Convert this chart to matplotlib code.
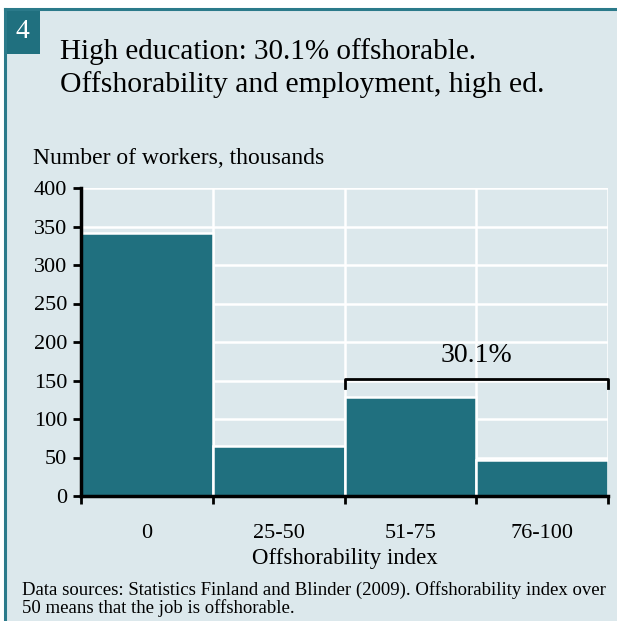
import matplotlib.pyplot as plt
from matplotlib.patches import Rectangle

# Työntekijät offshorability-indeksin luokittain, tuhansia
categories = ["0", "25-50", "51-75", "76-100"]
workers = [342, 65, 128, 47]
share_label = "30.1%"

bg = "#dce8ec"
teal = "#20707f"
frame = "#2b7a8a"

plt.rcParams['font.family'] = ['Liberation Serif', 'DejaVu Serif']

W, H = 617, 621
fig = plt.figure(figsize=(W / 100, H / 100), dpi=100)
fig.patch.set_facecolor("white")

# tausta ja reunaviivat
fig.patches.append(Rectangle((5 / W, 0), 1, 1 - 9 / H, transform=fig.transFigure,
                             facecolor=bg, edgecolor="none", zorder=0))
fig.add_artist(plt.Line2D([5 / W, 1], [1 - 9 / H, 1 - 9 / H], color=frame, lw=2.2,
                          transform=fig.transFigure))
fig.add_artist(plt.Line2D([5 / W, 5 / W], [0, 1 - 9 / H], color=frame, lw=2.2,
                          transform=fig.transFigure))
# numerolaatikko
fig.patches.append(Rectangle((4 / W, 1 - 54 / H), 36 / W, 46 / H, transform=fig.transFigure,
                             facecolor=teal, edgecolor="none", zorder=1))
fig.text(22 / W, 1 - 31 / H, "4", color="white", fontsize=20, ha="center", va="center")

fig.text(60 / W, 1 - 52 / H, "High education: 30.1% offshorable.", fontsize=21,
         ha="left", va="center")
fig.text(60 / W, 1 - 85 / H, "Offshorability and employment, high ed.", fontsize=21.3,
         ha="left", va="center")

ax = fig.add_axes([81 / W, 1 - 496 / H, (608 - 81) / W, (496 - 188) / H])
ax.set_zorder(2)
ax.set_facecolor(bg)

x = list(range(len(categories)))
ax.bar(x, workers, width=1, align="edge", color=teal, edgecolor="white", linewidth=1.8, zorder=2)

ax.set_xlim(0, 4)
ax.set_ylim(0, 400)
ax.set_yticks(range(0, 401, 50))
ax.set_xticks(range(0, 5))
ax.set_xticklabels([])
ax.set_xticks([i + 0.5 for i in x], minor=True)
ax.set_xticklabels(categories, minor=True)
ax.tick_params(axis="x", which="minor", length=0, pad=20, labelsize=16)
ax.tick_params(axis="x", which="major", length=6, width=2, direction="out")
ax.tick_params(axis="y", length=6, width=2, direction="out", labelsize=16, pad=4)

ax.grid(True, color="white", linewidth=1.8, zorder=0)
ax.set_axisbelow(True)
for s in ["top", "right"]:
    ax.spines[s].set_visible(False)
for s in ["left", "bottom"]:
    ax.spines[s].set_linewidth(2.5)
    ax.spines[s].set_zorder(3)

ax.set_xlabel("Offshorability index", fontsize=16.5, labelpad=4)
fig.text(33 / W, 1 - 158 / H, "Number of workers, thousands", fontsize=17, ha="left", va="center")

# hakasulku offshorable-luokkien päälle
ax.plot([2, 2, 4, 4], [140, 152, 152, 140], color="black", lw=2, clip_on=False, zorder=4)
ax.text(3, 182, share_label, fontsize=20, ha="center", va="center")

fig.text(22 / W, 1 - 599 / H,
         "Data sources: Statistics Finland and Blinder (2009). Offshorability index over\n"
         "50 means that the job is offshorable.",
         fontsize=13.5, ha="left", va="center", linespacing=0.98)

fig.savefig("out.png", dpi=100)
